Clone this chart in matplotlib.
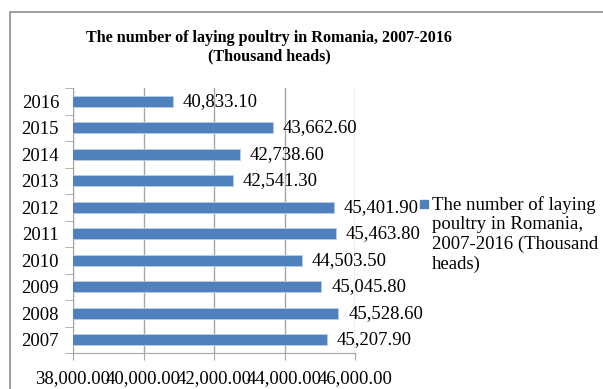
import matplotlib
matplotlib.use("Agg")
import matplotlib.pyplot as plt
from matplotlib.patches import Rectangle
from matplotlib.ticker import FixedLocator

years = ["2007", "2008", "2009", "2010", "2011", "2012", "2013", "2014", "2015", "2016"]
heads = [45207.9, 45528.6, 45045.8, 44503.5, 45463.8, 45401.9, 42541.3, 42738.6, 43662.6, 40833.1]
x_ticks = [38000, 40000, 42000, 44000, 46000]

series_name = "The number of laying\npoultry in Romania,\n2007-2016 (Thousand\nheads)"
title = "The number of laying poultry in Romania, 2007-2016\n(Thousand heads)"

BAR = "#4F81BD"
GRID = "#A6A6A6"
FS = 13.5

plt.rcParams["font.family"] = ["Liberation Serif", "DejaVu Serif"]

fig = plt.figure(figsize=(6.03, 3.89), dpi=100)
fig.patches.append(Rectangle((10 / 603, -0.1), 1.2, 1 - 12 / 389 + 0.1,
                             transform=fig.transFigure, fill=False,
                             edgecolor="#8C8C8C", lw=1.2))

ax = fig.add_axes([73 / 603, 1 - 353 / 389, (355 - 73) / 603, (353 - 88) / 389])
pos = list(range(len(years)))
ax.barh(pos, heads, height=0.4, left=0, color=BAR, edgecolor="#B9CDE5", lw=0.6,
        zorder=3)
for p, v in zip(pos, heads):
    ax.text(v + 280, p, f"{v:,.2f}", va="center", ha="left", fontsize=FS, zorder=4)

ax.set_xlim(38000, 46000)
ax.set_ylim(-0.5, len(years) - 0.5)
ax.set_xticks(x_ticks)
ax.set_xticklabels([f"{t:,.2f}" for t in x_ticks], fontsize=FS)
ax.set_yticks(pos)
ax.set_yticklabels(years, fontsize=FS)
ax.yaxis.set_minor_locator(FixedLocator([p - 0.5 for p in pos] + [len(years) - 0.5]))
ax.tick_params(axis="y", which="major", length=0, pad=10)
ax.tick_params(axis="y", which="minor", length=6, color=GRID)
ax.tick_params(axis="x", length=5, color=GRID, pad=7)
ax.grid(axis="x", color=GRID, lw=1.0, zorder=0)
for side in ("top", "right"):
    ax.spines[side].set_visible(False)
for side in ("left", "bottom"):
    ax.spines[side].set_color(GRID)

fig.text(269 / 603, 1 - 47 / 389, title, ha="center", va="center",
         fontsize=11.6, fontweight="bold", linespacing=1.25)

# legend entry: square key next to the first line of the series name
fig.patches.append(Rectangle((420 / 603, 1 - 208 / 389), 8 / 603, 8 / 389,
                             transform=fig.transFigure, color=BAR))
fig.text(432 / 603, 1 - 196 / 389, series_name, ha="left", va="top",
         fontsize=FS, linespacing=1.2)

fig.savefig("out.png", dpi=100, facecolor="white")
